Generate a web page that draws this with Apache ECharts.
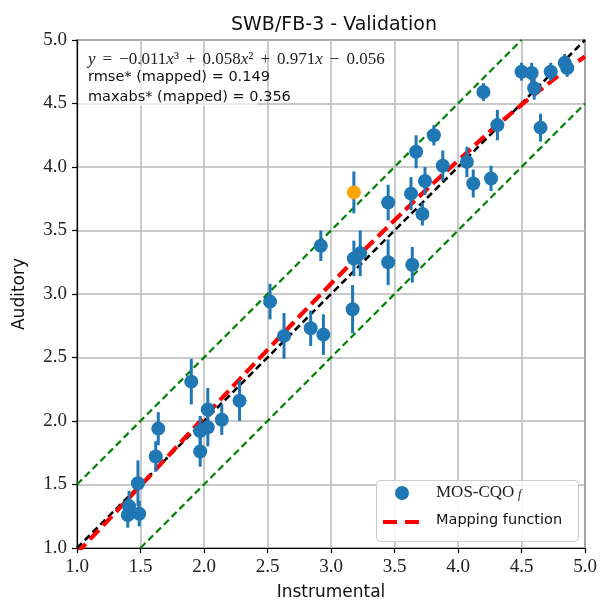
<!DOCTYPE html>
<html><head><meta charset="utf-8">
<script src="https://cdn.jsdelivr.net/npm/echarts@6/dist/echarts.min.js"></script>
<style>html,body{margin:0;padding:0;background:#fff}#c{width:602px;height:607px}</style>
</head><body><div id="c"></div>
<script>
// Instrumental (x), Auditory (y), error half-length
const instX = [1.40,1.41,1.49,1.48,1.62,1.64,1.90,1.97,1.97,2.03,2.03,2.14,2.28,2.52,2.63,2.84,2.92,2.94,3.17,3.18,3.23,3.45,3.64,3.45,3.63,3.67,3.72,3.74,3.81,3.88,4.07,4.12,4.20,4.26,4.31,4.50,4.58,4.60,4.65,4.73,4.84,4.86];
const audY  = [1.26,1.33,1.27,1.51,1.72,1.94,2.31,1.76,1.92,1.95,2.09,2.01,2.16,2.94,2.67,2.73,3.38,2.68,2.88,3.28,3.32,3.25,3.23,3.72,3.79,4.12,3.63,3.89,4.25,4.01,4.04,3.87,4.59,3.91,4.33,4.75,4.74,4.62,4.31,4.75,4.82,4.78];
const errY  = [0.10,0.12,0.10,0.18,0.12,0.13,0.18,0.12,0.12,0.15,0.17,0.12,0.16,0.14,0.18,0.14,0.12,0.16,0.19,0.14,0.18,0.18,0.14,0.14,0.13,0.13,0.09,0.11,0.08,0.12,0.12,0.11,0.07,0.10,0.12,0.07,0.08,0.09,0.11,0.07,0.07,0.07];
// highlighted point
const hiX = [3.18], hiY = [3.80], hiErr = [0.165];
// mapping function
const mapX = [1.0,1.5,2.0,2.5,3.0,3.5,4.0,4.5,5.0];
const mapY = [0.96,1.49,2.03,2.56,3.08,3.58,4.05,4.49,4.87];
// reference lines
const diagX = [1.0,5.0], diagY = [1.0,5.0];
const upX = [1.0,4.5], upY = [1.5,5.0];
const loX = [1.5,5.0], loY = [1.0,4.5];

const zip = (a,b)=>a.map((v,i)=>[v,b[i]]);
const BLUE = '#1f77b4';
const SERIF = '"Liberation Serif", "DejaVu Serif", serif';
const SANS = '"DejaVu Sans", sans-serif';

function errSeries(xs, ys, es){
  return {
    type:'custom', z:3,
    data: xs.map((x,i)=>[x, ys[i]-es[i], ys[i]+es[i]]),
    renderItem:(params, api)=>{
      const p1 = api.coord([api.value(0), api.value(1)]);
      const p2 = api.coord([api.value(0), api.value(2)]);
      return {type:'line', shape:{x1:p1[0],y1:p1[1],x2:p2[0],y2:p2[1]}, style:{stroke:BLUE, lineWidth:3}};
    }
  };
}
const axisCommon = {
  type:'value', min:1, max:5, interval:0.5,
  axisLine:{show:true, onZero:false, lineStyle:{color:'#000', width:1.2}},
  axisTick:{show:true, length:5, lineStyle:{color:'#000', width:1.2}},
  splitLine:{show:true, lineStyle:{color:'#b8b8b8', width:1.5}},
  axisLabel:{color:'#222', fontFamily:SERIF, fontSize:19, formatter:v=>v.toFixed(1)},
  nameLocation:'middle',
  nameTextStyle:{color:'#111', fontFamily:SANS, fontSize:17}
};
const chart = echarts.init(document.getElementById('c'), null, {renderer:'canvas'});
chart.setOption({
  animation:false,
  title:{text:'SWB/FB-3 - Validation', left:329, textAlign:'center', top:11,
    textStyle:{fontFamily:SANS, fontSize:19, fontWeight:'normal', color:'#111'}},
  grid:{left:77, right:17, top:40, bottom:59, show:true, borderColor:'#000', borderWidth:1.2, backgroundColor:'transparent'},
  xAxis:Object.assign({}, axisCommon, {name:'Instrumental', nameGap:36,
    axisLabel:Object.assign({}, axisCommon.axisLabel, {margin:10})}),
  yAxis:Object.assign({}, axisCommon, {name:'Auditory', nameGap:49, nameRotate:90,
    axisLabel:Object.assign({}, axisCommon.axisLabel, {margin:10})}),
  series:[
    {type:'line', data:zip(upX,upY), symbol:'none', z:2, lineStyle:{color:'#008000', width:2.2, type:[7,4]}},
    {type:'line', data:zip(loX,loY), symbol:'none', z:2, lineStyle:{color:'#008000', width:2.2, type:[7,4]}},
    {type:'line', data:zip(diagX,diagY), symbol:'none', z:2, lineStyle:{color:'#000', width:2.6, type:[7,4]}},
    {type:'line', data:zip(mapX,mapY), symbol:'none', smooth:true, z:2, lineStyle:{color:'#ff0000', width:4.2, type:[13,6]}},
    errSeries(instX, audY, errY),
    errSeries(hiX, hiY, hiErr),
    {type:'scatter', data:zip(instX,audY), symbol:'circle', symbolSize:14, z:4, itemStyle:{color:BLUE, opacity:1}},
    {type:'scatter', data:zip(hiX,hiY), symbol:'circle', symbolSize:14, z:5, itemStyle:{color:'#ffa500', opacity:1}}
  ],
  graphic:[
    {type:'rect', left:79, top:66, shape:{width:178, height:40}, style:{fill:'rgba(255,255,255,0.65)'}, z:10},
    {type:'text', left:88, top:51, z:11, style:{
      text:'{i|y}{o|=}−0.011{i|x}³{o|+}0.058{i|x}²{o|+}0.971{i|x}{o|−}0.056',
      font:'17px '+SERIF, fill:'#222',
      rich:{i:{fontStyle:'italic', fontFamily:SERIF, fontSize:17, fill:'#222'},
            o:{fontFamily:SERIF, fontSize:17, fill:'#222', padding:[0,7,0,7]}}}},
    {type:'text', left:88, top:70, z:11, style:{text:'rmse* (mapped) = 0.149', font:'14.5px '+SANS, fill:'#111'}},
    {type:'text', left:88, top:90, z:11, style:{text:'maxabs* (mapped) = 0.356', font:'14.5px '+SANS, fill:'#111'}},
    // legend
    {type:'rect', left:376, top:480, z:10, shape:{width:202, height:61, r:4}, style:{fill:'rgba(255,255,255,0.85)', stroke:'#cccccc', lineWidth:1}},
    {type:'circle', z:11, shape:{cx:402, cy:493, r:7}, style:{fill:BLUE}},
    {type:'text', left:436, top:484, z:11, style:{text:'MOS-CQO', font:'17px '+SERIF, fill:'#222'}},
    {type:'text', left:518, top:489, z:11, style:{text:'f', font:'italic 12px '+SERIF, fill:'#222'}},
    {type:'line', z:11, shape:{x1:383, y1:522, x2:420, y2:522}, style:{stroke:'#ff0000', lineWidth:4.2, lineDash:[14,8]}},
    {type:'text', left:436, top:513, z:11, style:{text:'Mapping function', font:'14.5px '+SANS, fill:'#111'}}
  ]
});
</script></body></html>
